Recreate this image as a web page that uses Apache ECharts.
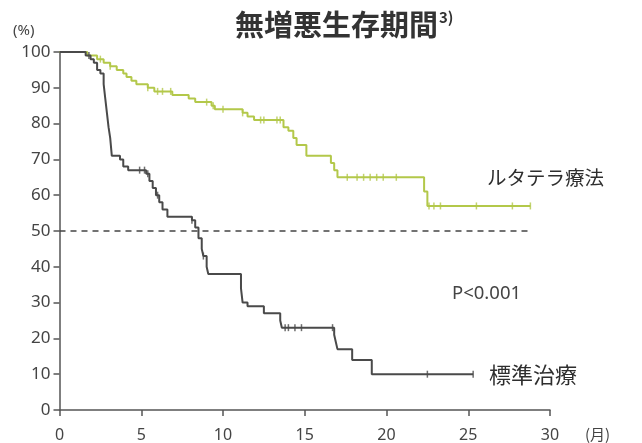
<!DOCTYPE html>
<html><head><meta charset="utf-8">
<script src="https://cdn.jsdelivr.net/npm/echarts@6/dist/echarts.min.js"></script>
<style>html,body{margin:0;padding:0;background:#fff}#c{width:642px;height:443px}</style>
</head><body><div id="c"></div>
<script>
// Kaplan-Meier steps: [month, survival % after event]
const lutatheraSteps = [[0,100],[1.7,99],[2.3,98],[2.7,97],[3.1,96],[3.5,95],[3.9,94],[4.1,93],[4.4,92],[4.7,91],[5.4,90],[5.8,89],[6.9,88],[7.9,87],[8.3,86],[9.3,85],[9.5,84],[11.2,83],[11.5,82],[11.9,81],[13.7,79],[14.0,78],[14.3,76],[14.5,74],[15.1,71],[16.6,69],[16.8,67],[17.0,65],[22.3,61],[22.5,57],[28.8,57]];
const standardSteps = [[0,100],[1.6,99],[1.9,98],[2.1,97],[2.3,95],[2.5,94],[2.7,91],[2.8,87],[2.9,83],[3.0,79],[3.1,76],[3.2,71],[3.7,70],[3.9,68],[4.2,67],[5.3,66],[5.5,64],[5.7,62],[5.9,60],[6.1,58],[6.3,56],[6.6,54],[8.1,53],[8.3,51],[8.5,48],[8.7,45],[8.8,43],[9.0,40],[9.1,38],[11.1,34],[11.2,30],[11.5,29],[12.5,27],[13.5,25],[13.6,23],[16.8,21],[16.9,19],[17.0,17],[17.9,14],[19.1,10],[25.3,10]];
// censored times (months)
const lutatheraCensor = [2.5,3.1,5.4,6.0,6.3,6.8,9.0,9.4,10.0,11.2,12.3,12.5,13.3,13.5,17.6,18.2,18.6,19.0,19.4,19.8,20.6,22.6,22.9,23.3,25.5,27.7,28.8];
const standardCensor = [1.8,4.9,5.2,5.4,6.0,8.1,8.8,13.8,14.0,14.4,14.8,16.7,22.5,25.3];
const xTicks = [0,5,10,15,20,25,30];
const yTicks = [0,10,20,30,40,50,60,70,80,90,100];
const refLine = 50;
const refLineEnd = 28.8;

function valueAt(steps, t){ let v = steps[0][1]; for(const s of steps){ if(s[0] <= t) v = s[1]; } return v; }

const GREEN = '#b3c84a', DARK = '#4a4a4a';
const chart = echarts.init(document.getElementById('c'));
const font = '"Noto Sans CJK JP", "Noto Sans", sans-serif';
const numFont = '"Noto Sans", "Open Sans", sans-serif';
chart.setOption({
  animation:false,
  textStyle:{fontFamily:font},
  title:{text:'{t|無増悪生存期間}{s|3)}', left:230, top:5,
    textStyle:{rich:{t:{fontSize:29, color:'#333', fontFamily:font, fontWeight:'bold'}, s:{fontSize:15, color:'#333', fontFamily:font, verticalAlign:'top', padding:[0,0,14,1]}}}},
  grid:{left:59.5, right:92, top:52, bottom:33, containLabel:false},
  xAxis:{type:'value', min:0, max:30, interval:5,
    axisLine:{show:true, onZero:false, lineStyle:{color:'#555', width:1.5}},
    axisTick:{show:true, length:6, lineStyle:{color:'#555', width:1.5}},
    axisLabel:{color:'#444', fontSize:16, fontFamily:numFont, margin:17},
    splitLine:{show:false}},
  yAxis:{type:'value', min:0, max:100, interval:10,
    axisLine:{show:true, onZero:false, lineStyle:{color:'#555', width:1.5}},
    axisTick:{show:true, length:6, lineStyle:{color:'#555', width:1.5}},
    axisLabel:{color:'#444', fontSize:17, fontFamily:numFont, margin:9},
    splitLine:{show:false}},
  series:[
    {type:'line', step:'end', data:lutatheraSteps, showSymbol:false, lineStyle:{color:GREEN, width:2}, z:3,
      markLine:{silent:true, symbol:'none', label:{show:false}, lineStyle:{color:'#444', type:[6,5], width:1.5},
        data:[[{coord:[0,refLine]},{coord:[refLineEnd,refLine]}]]}},
    {type:'line', step:'end', data:standardSteps, showSymbol:false, lineStyle:{color:DARK, width:2}, z:3},
    {type:'scatter', data:lutatheraCensor.map(t=>[t, valueAt(lutatheraSteps,t)]), symbol:'rect', symbolSize:[1.5,7], itemStyle:{color:GREEN}, z:4},
    {type:'scatter', data:standardCensor.map(t=>[t, valueAt(standardSteps,t)]), symbol:'rect', symbolSize:[1.5,7], itemStyle:{color:DARK}, z:4}
  ],
  graphic:[
    {type:'text', left:13, top:23, style:{text:'(%)', fontSize:15, fill:'#444', fontFamily:numFont}},
    {type:'text', left:585, top:427, style:{text:'(月)', fontSize:15, fill:'#444', fontFamily:font}},
    {type:'text', left:487, top:168, style:{text:'ルタテラ療法', fontSize:19.5, fill:'#2e2e2e', fontFamily:font}},
    {type:'text', left:489, top:364, style:{text:'標準治療', fontSize:22, fill:'#2e2e2e', fontFamily:font}},
    {type:'text', left:452, top:284, style:{text:'P<0.001', fontSize:18.5, fill:'#444', fontFamily:numFont}}
  ]
});
</script></body></html>
